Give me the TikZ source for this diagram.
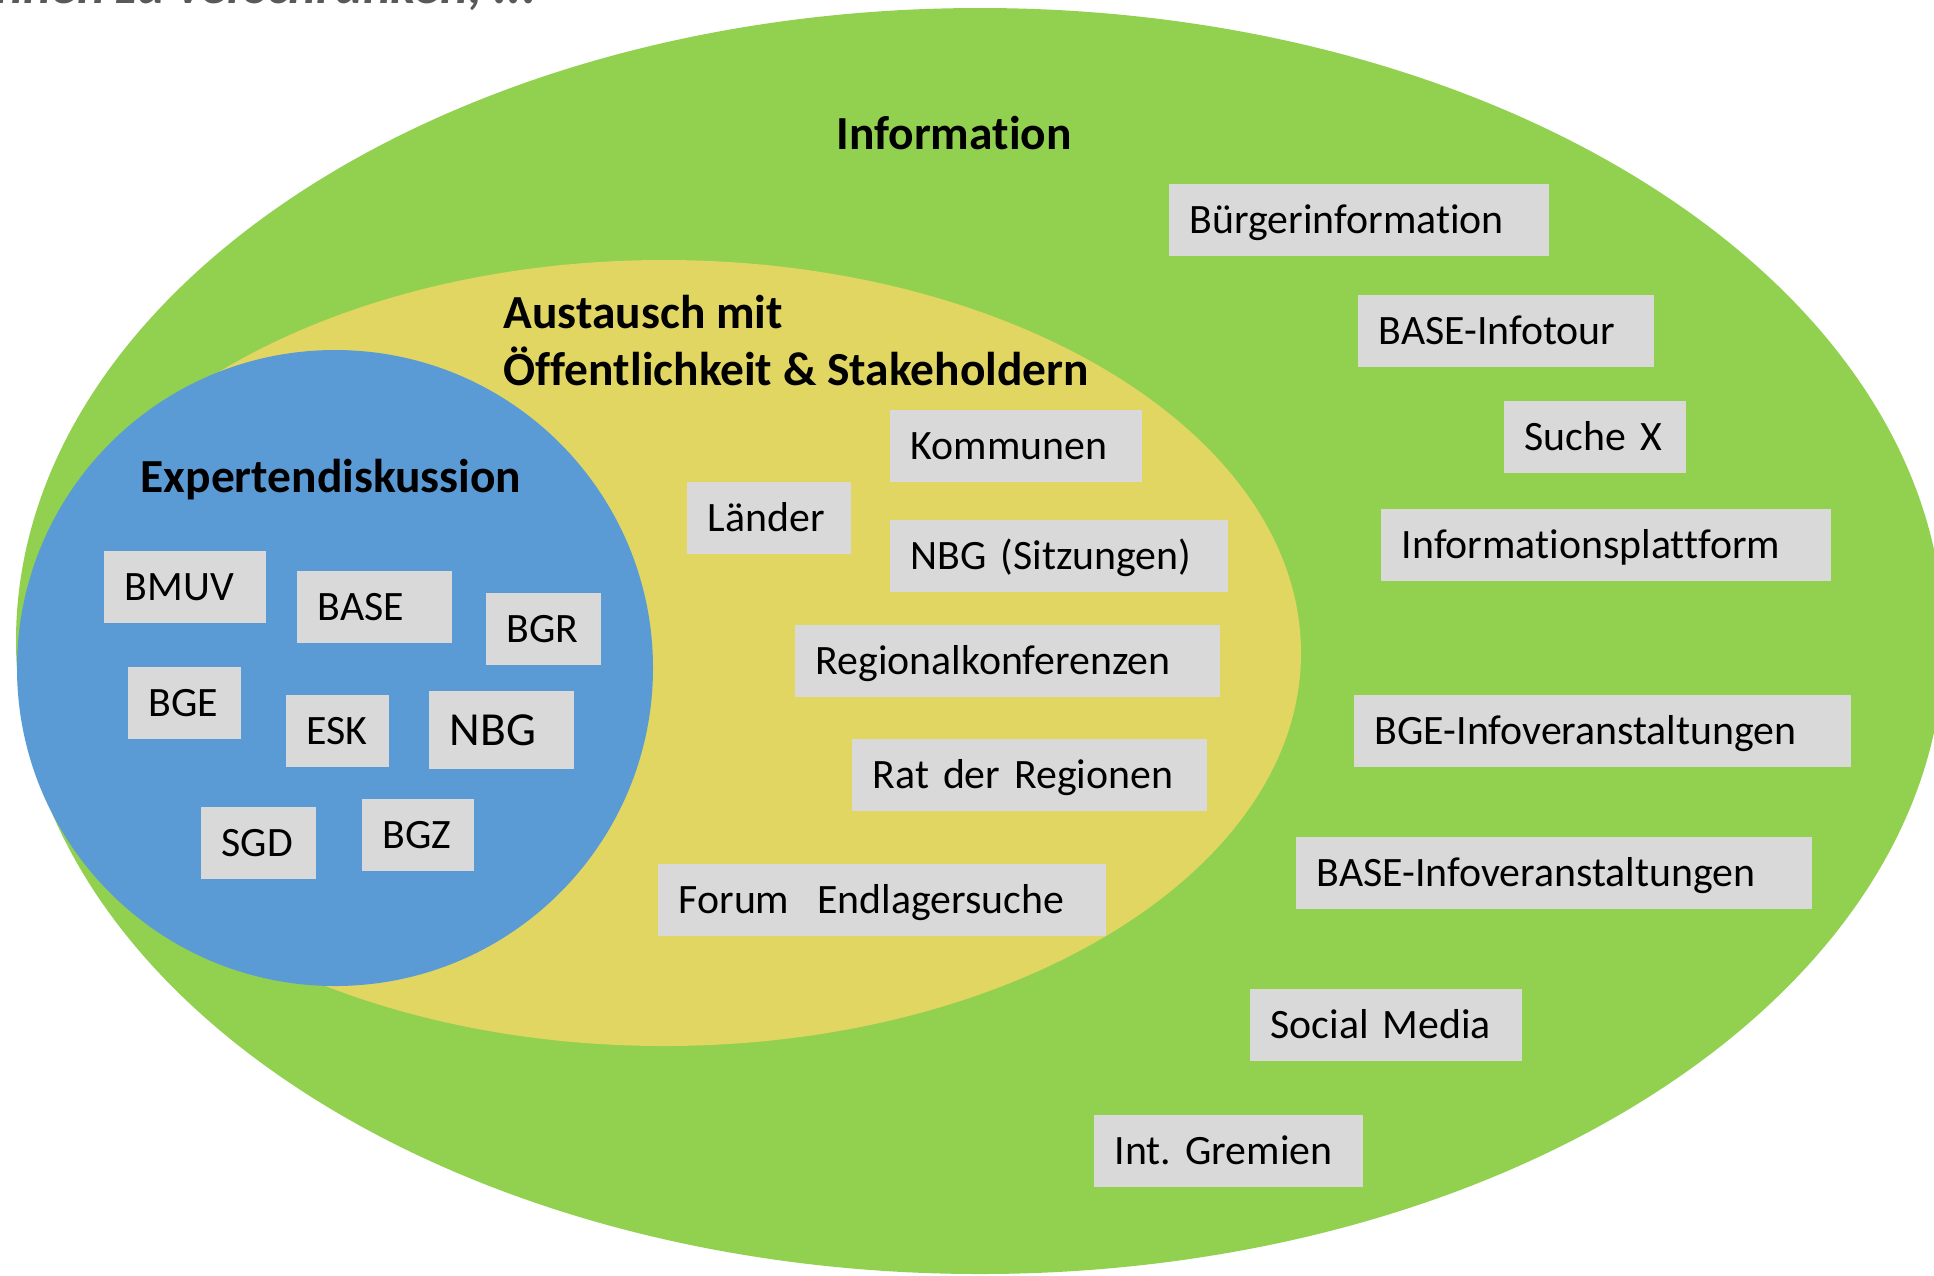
\documentclass[tikz,border=0pt]{standalone}
\usepackage{fontspec}
\setmainfont[Ligatures=NoCommon]{Carlito}
\usepackage{xcolor}
\usepackage{tikz}
\frenchspacing

\definecolor{infogreen}{HTML}{92D050}
\definecolor{austauschyellow}{HTML}{E2D662}
\definecolor{expertblue}{HTML}{5B9BD5}
\definecolor{boxgray}{HTML}{D9D9D9}
\definecolor{notegray}{HTML}{595959}

\begin{document}
\begin{tikzpicture}[
  infobox/.style={fill=boxgray, anchor=north west, align=left, inner xsep=0.21cm, inner ysep=0pt,
    minimum height=0.72cm, text height=0.28cm, text depth=0pt, font=\fontsize{11.9}{14}\selectfont},
  areatitle/.style={inner sep=0pt, font=\fontsize{13.5}{16}\selectfont\bfseries}
]
\useasboundingbox (0,0) rectangle (19.34,-12.75);
\clip (0,0) rectangle (19.34,-12.75);

% Areas
\fill[infogreen] (9.80,-6.41) ellipse [x radius=9.64, y radius=6.33];
\fill[austauschyellow] (6.64,-6.53) ellipse [x radius=6.37, y radius=3.93];
\fill[expertblue] (3.35,-6.68) circle [radius=3.18];

% Cut-off line above
\node[inner sep=0pt, anchor=base east, text=notegray, font=\fontsize{15}{18}\selectfont\bfseries\itshape] (note) at (5.37,-0.03) {innen zu verschränken, ...};

% Titles
\node[areatitle, anchor=base] (information) at (9.54,-1.49) {Information};
\node[areatitle, anchor=base west] (austausch) at (5.03,-3.28) {Austausch mit};
\node[areatitle, anchor=base west] (oeffentlich) at (5.03,-3.85) {Öffentlichkeit \& Stakeholdern};
\node[areatitle, anchor=base west] (experten) at (1.40,-4.92) {Expertendiskussion};

% Information
\node[infobox, text width=3.38cm] (buerger) at (11.68,-1.83) {Bürgerinformation};
\node[infobox, text width=2.54cm] (infotour) at (13.57,-2.94) {BASE-Infotour};
\node[infobox, text width=1.40cm] (suche) at (15.03,-4.00) {Suche X};
\node[infobox, text width=4.08cm] (plattform) at (13.80,-5.08) {Informationsplattform};
\node[infobox, text width=4.55cm] (bgeinfo) at (13.53,-6.94) {BGE-Infoveranstaltungen};
\node[infobox, text width=4.74cm] (baseinfo) at (12.95,-8.36) {BASE-Infoveranstaltungen};
\node[infobox, text width=2.30cm] (social) at (12.49,-9.88) {Social Media};
\node[infobox, text width=2.27cm] (gremien) at (10.93,-11.14) {Int. Gremien};

% Austausch
\node[infobox, text width=2.10cm] (kommunen) at (8.89,-4.09) {Kommunen};
\node[infobox, text width=1.22cm] (laender) at (6.86,-4.81) {Länder};
\node[infobox, text width=2.96cm] (nbgsitz) at (8.89,-5.19) {NBG (Sitzungen)};
\node[infobox, text width=3.83cm] (regkonf) at (7.94,-6.24) {Regionalkonferenzen};
\node[infobox, text width=3.13cm] (rat) at (8.51,-7.38) {Rat der Regionen};
\node[infobox, text width=4.06cm] (forum) at (6.57,-8.63) {Forum\ \ Endlagersuche};

% Experten
\node[infobox, text width=1.20cm] (bmuv) at (1.03,-5.50) {BMUV};
\node[infobox, text width=1.13cm] (base) at (2.96,-5.70) {BASE};
\node[infobox, text width=0.73cm] (bgr) at (4.85,-5.92) {BGR};
\node[infobox, text width=0.71cm] (bge) at (1.27,-6.66) {BGE};
\node[infobox, text width=0.61cm] (esk) at (2.85,-6.94) {ESK};
\node[infobox, text width=1.03cm, minimum height=0.78cm, text height=0.32cm,
  font=\fontsize{13.5}{16}\selectfont] (nbg) at (4.28,-6.90) {NBG};
\node[infobox, text width=0.73cm] (sgd) at (2.00,-8.06) {SGD};
\node[infobox, text width=0.70cm] (bgz) at (3.61,-7.98) {BGZ};
\end{tikzpicture}
\end{document}
